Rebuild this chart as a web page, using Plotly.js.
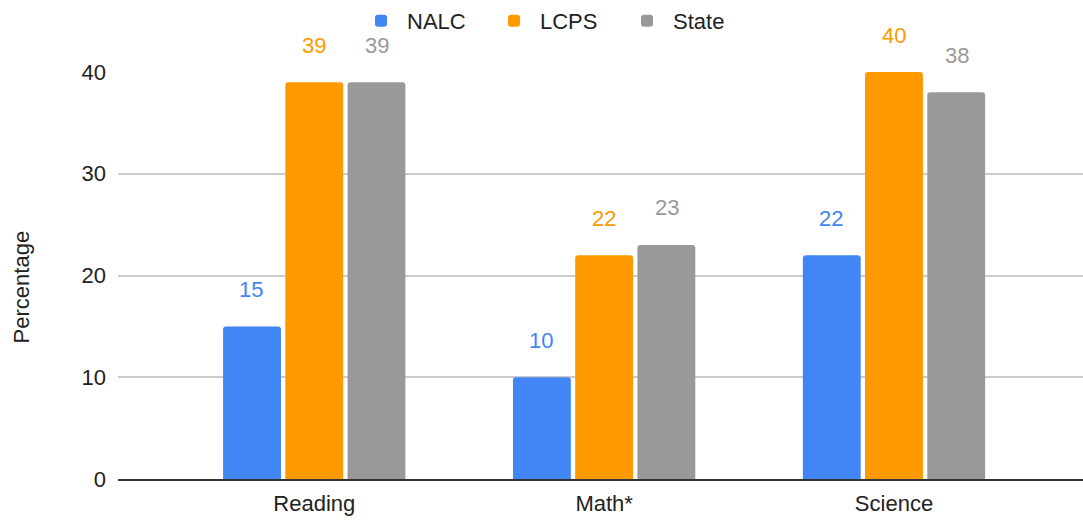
<!DOCTYPE html>
<html lang="en">
<head>
    <meta charset="UTF-8">
    <title>Percentage by Subject</title>
    <script src="https://cdn.plot.ly/plotly-3.0.1.min.js"></script>
    <style>
        body { margin: 0; background: white; }
        #plot { width: 1083px; height: 520px; }
    </style>
</head>
<body>
    <div id="plot"></div>
    <script>
        const subjects = ['Reading', 'Math*', 'Science'];
        const seriesNames = ['NALC', 'LCPS', 'State'];
        const nalc = [15, 10, 22];
        const lcps = [39, 22, 40];
        const state = [39, 23, 38];
        const colors = ['#4285F4', '#FF9900', '#999999'];

        const FONT = 'Arial, "Liberation Sans", sans-serif';
        const allValues = [nalc, lcps, state];

        const traces = allValues.map((vals, i) => ({
            x: subjects,
            y: vals,
            type: 'bar',
            name: seriesNames[i],
            marker: {color: colors[i], cornerradius: 3},
            hoverinfo: 'y'
        }));

        // value labels floating above each bar, in the series colour
        const annotations = [];
        allValues.forEach((vals, i) => {
            vals.forEach((v, j) => {
                annotations.push({
                    x: j,
                    y: v,
                    xref: 'x',
                    yref: 'y',
                    text: String(v),
                    showarrow: false,
                    xshift: (i - 1) * 63,
                    yshift: 37,
                    font: {family: FONT, size: 22, color: colors[i]}
                });
            });
        });

        // y axis title sits a little below the plot's middle in the original
        annotations.push({
            xref: 'paper',
            yref: 'paper',
            x: 0,
            y: 0.472,
            xshift: -111,
            text: 'Percentage',
            textangle: -90,
            showarrow: false,
            font: {family: FONT, size: 22, color: '#222'}
        });

        const layout = {
            width: 1083,
            height: 520,
            margin: {l: 118, r: 0, t: 72, b: 41},
            barmode: 'group',
            bargap: 0.356,
            bargroupgap: 0.07,
            font: {family: FONT, size: 22, color: '#222'},
            xaxis: {
                type: 'category',
                range: [-0.677, 2.652],
                showgrid: false,
                showline: true,
                linecolor: '#333',
                linewidth: 2,
                ticks: '',
                ticklabelstandoff: 4,
                tickfont: {family: FONT, size: 22, color: '#222'}
            },
            yaxis: {
                range: [0, 40],
                dtick: 10,
                gridcolor: '#cccccc',
                gridwidth: 1.5,
                zeroline: false,
                ticks: '',
                ticklabelstandoff: 11,
                tickfont: {family: FONT, size: 22, color: '#222'}
            },
            showlegend: true,
            legend: {
                orientation: 'h',
                xref: 'container',
                yref: 'container',
                x: 355 / 1083,
                xanchor: 'left',
                y: 1,
                yanchor: 'top',
                font: {family: FONT, size: 22, color: '#222'},
                entrywidth: 76,
                entrywidthmode: 'pixels',
                itemwidth: 42
            },
            annotations: annotations,
            plot_bgcolor: 'white',
            paper_bgcolor: 'white'
        };

        Plotly.newPlot('plot', traces, layout, {displayModeBar: false});
    </script>
</body>
</html>
